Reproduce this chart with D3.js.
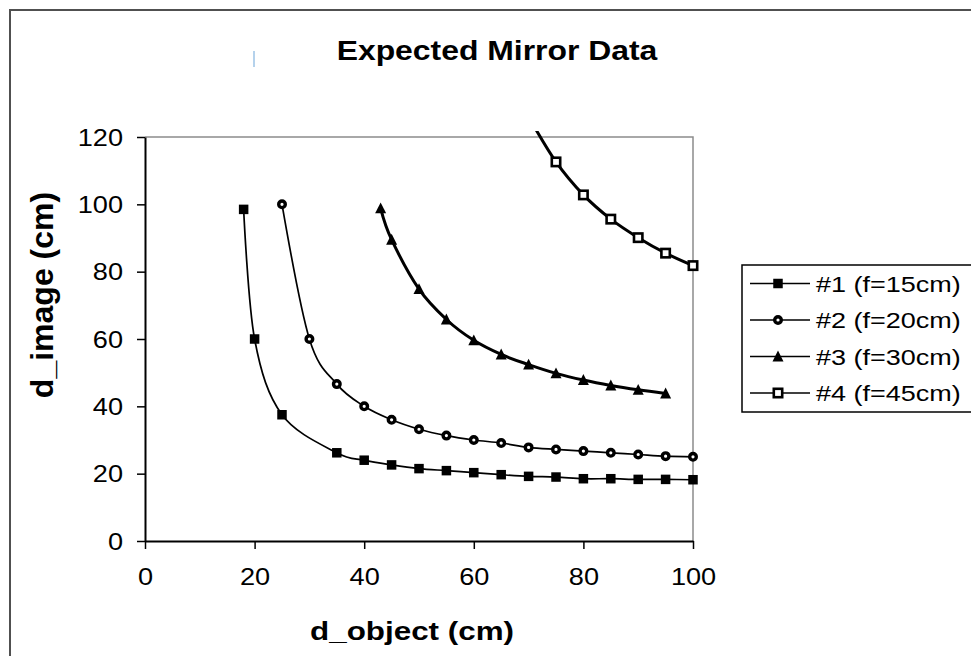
<!DOCTYPE html>
<html>
<head>
<meta charset="utf-8">
<script src="https://cdn.jsdelivr.net/npm/d3@7/dist/d3.min.js"></script>
<style>
  html, body { margin: 0; padding: 0; background: #fff; }
  svg { display: block; }
  text { font-family: "Liberation Sans", Arial, sans-serif; fill: #000; }
</style>
</head>
<body>
<svg id="chart" width="971" height="656"></svg>
<script>
// ---- data ----
const title = "Expected Mirror Data";
const xTitle = "d_object (cm)";
const yTitle = "d_image (cm)";
const seriesNames = ["#1 (f=15cm)", "#2 (f=20cm)", "#3 (f=30cm)", "#4 (f=45cm)"];

const dObject1 = [18, 20, 25, 35, 40, 45, 50, 55, 60, 65, 70, 75, 80, 85, 90, 95, 100];
const dImage1  = [98.5, 60, 37.5, 26.2, 24, 22.6, 21.5, 20.9, 20.3, 19.7, 19.2, 19.0, 18.5, 18.5, 18.3, 18.3, 18.2];

const dObject2 = [25, 30, 35, 40, 45, 50, 55, 60, 65, 70, 75, 80, 85, 90, 95, 100];
const dImage2  = [100, 60, 46.6, 40, 36, 33.2, 31.3, 30, 29.1, 27.8, 27.2, 26.7, 26.2, 25.7, 25.2, 25];

const dObject3 = [43, 45, 50, 55, 60, 65, 70, 75, 80, 85, 90, 95];
const dImage3  = [98.8, 89.5, 74.8, 65.8, 59.6, 55.4, 52.4, 49.8, 47.8, 46.2, 44.9, 43.8];

const dObject4 = [70, 75, 80, 85, 90, 95, 100];
const dImage4  = [126, 112.6, 102.8, 95.6, 90.1, 85.5, 81.8];

const xTicks = [0, 20, 40, 60, 80, 100];
const yTicks = [0, 20, 40, 60, 80, 100, 120];

// ---- layout / style ----
const SX = 1.18;            // horizontal stretch of the reference glyphs
const FONT = '"Liberation Sans", Arial, sans-serif';
const plot = { left: 145, right: 693, top: 137, bottom: 541 };

const svg = d3.select("#chart");

// outer frame
svg.append("rect").attr("x", 10).attr("y", 10).attr("width", 980).attr("height", 660)
  .attr("fill", "#fff").attr("stroke", "#505050").attr("stroke-width", 2);
// small light-blue artifact left of title
svg.append("line").attr("x1", 254).attr("x2", 254).attr("y1", 51).attr("y2", 67)
  .attr("stroke", "#9cc3e6").attr("stroke-width", 1.5);

const x = d3.scaleLinear().domain([0, 100]).range([plot.left, plot.right]);
const y = d3.scaleLinear().domain([0, 120]).range([plot.bottom, plot.top]);

// plot area border (gray top/right)
svg.append("path")
  .attr("d", `M${plot.left},${plot.top}H${plot.right}V${plot.bottom}`)
  .attr("fill", "none").attr("stroke", "#8c8c8c").attr("stroke-width", 1.5);

function stretchText(sel, tx, ty, size, weight, anchor, str, sx) {
  return sel.append("text")
    .attr("transform", `translate(${tx},${ty}) scale(${sx || SX},1)`)
    .attr("text-anchor", anchor)
    .style("font-size", size + "px")
    .style("font-weight", weight)
    .text(str);
}

// title
stretchText(svg, 497, 60, 27.5, "bold", "middle", title, 1.16);
// x title
stretchText(svg, 412, 640, 26.6, "bold", "middle", xTitle);
// y title (rotated)
svg.append("text")
  .attr("transform", `translate(53,295) rotate(-90)`)
  .attr("text-anchor", "middle")
  .style("font-size", "32px").style("font-weight", "bold")
  .text(yTitle);

// axes
const xAxis = svg.append("g").attr("transform", `translate(0,${plot.bottom})`)
  .call(d3.axisBottom(x).tickValues(xTicks).tickSize(8).tickSizeOuter(0).tickPadding(0));
const yAxis = svg.append("g").attr("transform", `translate(${plot.left},0)`)
  .call(d3.axisLeft(y).tickValues(yTicks).tickSize(8).tickSizeOuter(0).tickPadding(0));
[xAxis, yAxis].forEach(g => {
  g.select(".domain").attr("stroke", "#000").attr("stroke-width", 2);
  g.selectAll(".tick line").attr("stroke", "#000").attr("stroke-width", 1.5);
  g.selectAll(".tick text").style("font-family", FONT).style("font-size", "23px").attr("fill", "#000");
});
xAxis.selectAll(".tick text").attr("y", 0).attr("dy", 0)
  .attr("transform", `translate(0,44) scale(${SX},1)`);
yAxis.selectAll(".tick text").attr("x", 0).attr("dy", 0)
  .attr("transform", `translate(-22,8) scale(${SX},1)`);

// series
const series = [
  { name: seriesNames[0], xs: dObject1, ys: dImage1, marker: "fsquare", width: 1.7, size: 9.5 },
  { name: seriesNames[1], xs: dObject2, ys: dImage2, marker: "circle",  width: 1.7, size: 10 },
  { name: seriesNames[2], xs: dObject3, ys: dImage3, marker: "triangle", width: 3, size: 11 },
  { name: seriesNames[3], xs: dObject4, ys: dImage4, marker: "osquare", width: 3, size: 11 },
];

svg.append("clipPath").attr("id", "clip").append("rect")
  .attr("x", plot.left).attr("y", plot.top - 6)
  .attr("width", plot.right - plot.left + 10).attr("height", plot.bottom - plot.top + 6);

const line = d3.line().curve(d3.curveCardinal.tension(0))
  .x(d => x(d[0])).y(d => y(d[1]));

function drawMarker(g, type, cx, cy, s) {
  if (type === "fsquare") {
    g.append("rect").attr("x", cx - s / 2).attr("y", cy - s / 2).attr("width", s).attr("height", s)
      .attr("fill", "#000");
  } else if (type === "osquare") {
    const sw = 2.6;
    g.append("rect").attr("x", cx - s / 2 + sw / 2).attr("y", cy - s / 2 + sw / 2)
      .attr("width", s - sw).attr("height", s - sw)
      .attr("fill", "#fff").attr("stroke", "#000").attr("stroke-width", sw);
  } else if (type === "circle") {
    const sw = 3.4;
    g.append("circle").attr("cx", cx).attr("cy", cy).attr("r", s / 2 - sw / 2)
      .attr("fill", "#fff").attr("stroke", "#000").attr("stroke-width", sw);
  } else if (type === "triangle") {
    const h = s * 0.9;
    g.append("path")
      .attr("d", `M${cx},${cy - h / 2 - 1}L${cx + s / 2},${cy + h / 2}L${cx - s / 2},${cy + h / 2}Z`)
      .attr("fill", "#000");
  }
}

const plotG = svg.append("g").attr("clip-path", "url(#clip)");
series.forEach(s => {
  const pts = s.xs.map((v, i) => [v, s.ys[i]]);
  plotG.append("path").datum(pts).attr("d", line)
    .attr("fill", "none").attr("stroke", "#000").attr("stroke-width", s.width)
    .attr("stroke-linejoin", "round");
});
const markG = svg.append("g");
series.forEach(s => {
  s.xs.forEach((v, i) => {
    if (s.ys[i] <= 120) drawMarker(markG, s.marker, x(v), y(s.ys[i]), s.size);
  });
});

// legend
const legend = svg.append("g");
legend.append("rect").attr("x", 742).attr("y", 265).attr("width", 260).attr("height", 147)
  .attr("fill", "#fff").attr("stroke", "#000").attr("stroke-width", 1.5);
const legendRows = d3.scaleLinear().domain([0, 3]).range([283.5, 393]);
series.forEach((s, i) => {
  const ly = legendRows(i);
  legend.append("line").attr("x1", 750).attr("x2", 810).attr("y1", ly).attr("y2", ly)
    .attr("stroke", "#000").attr("stroke-width", 1.3);
  drawMarker(legend, s.marker, 778, ly, s.size);
  stretchText(legend, 816, ly + 8, 22.5, "normal", "start", s.name, 1.2);
});
</script>
</body>
</html>
